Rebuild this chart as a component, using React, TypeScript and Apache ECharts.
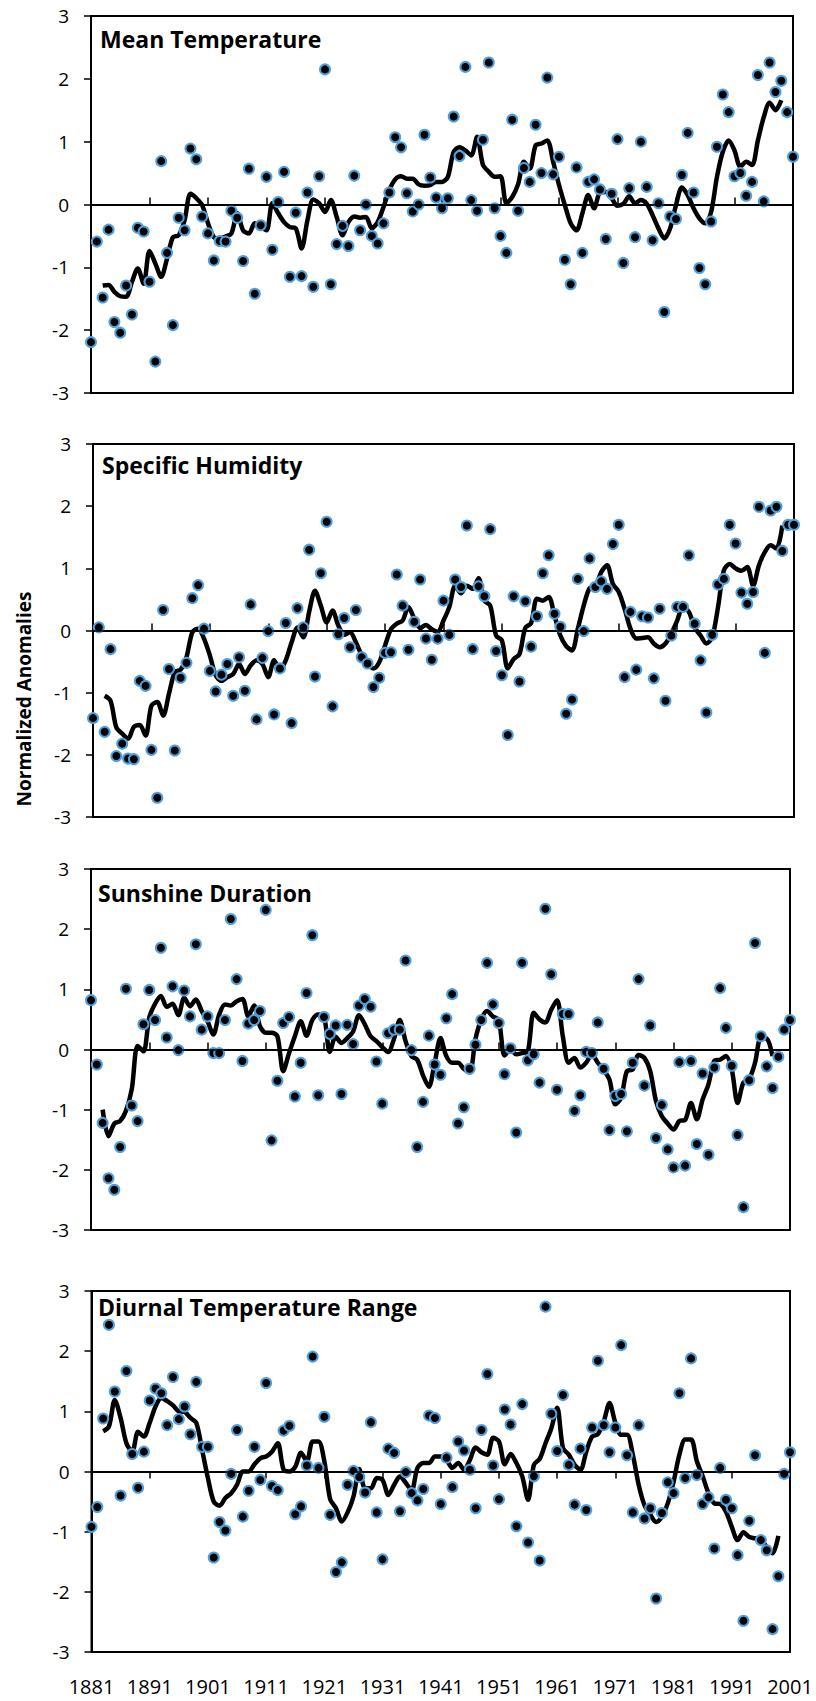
import React, { useEffect, useRef } from "react";
import * as echarts from "echarts";

const FIRST_YEAR = 1881;
const LAST_YEAR = 2001;
const LINE_START = 1883;

const panelTitles = ["Mean Temperature", "Specific Humidity", "Sunshine Duration", "Diurnal Temperature Range"];
const yAxisTitle = "Normalized Anomalies";

// ---- Mean Temperature ----
const meanTempPoints = [
  -2.19, -0.59, -1.48, -0.40, -1.87, -2.04, -1.29, -1.75, -0.37, -0.43,
  -1.23, -2.50, 0.69, -0.77, -1.92, -0.21, -0.41, 0.89, 0.72, -0.19,
  -0.46, -0.89, -0.58, -0.59, -0.10, -0.21, -0.90, 0.57, -1.42, -0.33,
  0.44, -0.72, 0.04, 0.52, -1.15, -0.13, -1.14, 0.19, -1.31, 0.45,
  2.15, -1.27, -0.63, -0.34, -0.66, 0.46, -0.41, 0.00, -0.50, -0.62,
  -0.30, 0.19, 1.07, 0.91, 0.18, -0.11, 0.00, 1.11, 0.43, 0.11,
  -0.06, 0.10, 1.40, 0.77, 2.19, 0.07, -0.10, 1.03, 2.26, -0.06,
  -0.50, -0.77, 1.35, -0.10, 0.58, 0.36, 1.27, 0.50, 2.02, 0.48,
  0.76, -0.88, -1.27, 0.59, -0.77, 0.36, 0.40, 0.24, -0.55, 0.17,
  1.04, -0.93, 0.26, -0.52, 1.00, 0.28, -0.57, 0.02, -1.71, -0.19,
  -0.23, 0.47, 1.14, 0.19, -1.01, -1.27, -0.27, 0.92, 1.75, 1.47,
  0.45, 0.50, 0.14, 0.36, 2.06, 0.05, 2.26, 1.79, 1.97, 1.47,
  0.76,
];
const meanTempSmooth = [
  -1.29, -1.28, -1.39, -1.46, -1.47, -1.23, -1.02, -1.26,
  -0.74, -0.94, -1.15, -0.86, -0.52, -0.49, -0.25, 0.17, 0.10, -0.01,
  -0.30, -0.52, -0.54, -0.51, -0.46, -0.14, -0.41, -0.46, -0.30, -0.36,
  -0.41, 0.02, -0.14, -0.28, -0.36, -0.38, -0.70, -0.25, 0.08, 0.02,
  -0.12, 0.07, -0.20, -0.49, -0.28, -0.19, -0.21, -0.20, -0.38, -0.28,
  -0.04, 0.23, 0.40, 0.45, 0.41, 0.41, 0.32, 0.30, 0.31, 0.36,
  0.36, 0.44, 0.84, 0.91, 0.86, 0.78, 1.08, 0.63, 0.52, 0.44,
  0.45, 0.02, 0.12, 0.32, 0.68, 0.57, 0.94, 0.97, 1.02, 0.68,
  0.31, -0.01, -0.30, -0.41, -0.14, 0.15, -0.06, 0.19, 0.20, 0.10,
  -0.02, 0.01, 0.13, 0.02, 0.07, 0.01, -0.17, -0.38, -0.54, -0.38,
  -0.01, 0.27, 0.15, -0.06, -0.22, -0.30, -0.12, 0.44, 0.84, 1.02,
  0.86, 0.60, 0.68, 0.63, 1.02, 1.39, 1.62, 1.50, 1.66,
];

// ---- Specific Humidity ----
const humidityPoints = [
  -1.41, 0.05, -1.63, -0.30, -2.02, -1.82, -2.06, -2.07, -0.81, -0.89,
  -1.92, -2.69, 0.33, -0.62, -1.93, -0.76, -0.52, 0.52, 0.73, 0.03,
  -0.65, -0.98, -0.71, -0.54, -1.05, -0.43, -0.97, 0.42, -1.43, -0.44,
  -0.01, -1.35, -0.61, 0.12, -1.49, 0.36, 0.05, 1.30, -0.74, 0.92,
  1.75, -1.22, -0.06, 0.20, -0.27, 0.33, -0.43, -0.53, -0.91, -0.76,
  -0.36, -0.35, 0.90, 0.40, -0.31, 0.14, 0.82, -0.13, -0.47, -0.13,
  0.48, -0.07, 0.82, 0.70, 1.69, -0.30, 0.71, 0.55, 1.63, -0.33,
  -0.72, -1.68, 0.55, -0.82, 0.47, -0.26, 0.23, 0.92, 1.21, 0.27,
  0.06, -1.34, -1.11, 0.83, -0.01, 1.16, 0.70, 0.79, 0.67, 1.39,
  1.70, -0.75, 0.30, -0.63, 0.23, 0.21, -0.77, 0.35, -1.13, -0.08,
  0.38, 0.38, 1.21, 0.11, -0.48, -1.32, -0.07, 0.74, 0.83, 1.70,
  1.40, 0.61, 0.43, 0.62, 1.99, -0.36, 1.93, 1.99, 1.28, 1.70,
  1.70,
];
const humiditySmooth = [
  -1.05, -1.13, -1.56, -1.66, -1.74, -1.55, -1.52, -1.69,
  -1.21, -1.15, -1.37, -1.02, -0.67, -0.63, -0.43, -0.03, 0.03, -0.13,
  -0.40, -0.72, -0.81, -0.75, -0.70, -0.54, -0.70, -0.56, -0.48, -0.54,
  -0.75, -0.48, -0.64, -0.48, -0.19, 0.05, -0.11, 0.30, 0.64, 0.40,
  0.13, 0.32, 0.08, -0.07, -0.03, -0.19, -0.40, -0.54, -0.61, -0.51,
  -0.24, 0.02, 0.11, 0.16, 0.38, 0.19, 0.04, 0.09, 0.02, -0.02,
  0.16, 0.38, 0.72, 0.60, 0.72, 0.67, 0.84, 0.48, 0.40, -0.08,
  -0.16, -0.61, -0.46, -0.38, 0.04, 0.12, 0.51, 0.48, 0.54, 0.24,
  -0.08, -0.25, -0.32, 0.03, 0.40, 0.68, 0.71, 0.94, 1.05, 0.75,
  0.62, 0.35, 0.03, -0.13, -0.12, -0.11, -0.21, -0.27, -0.21, -0.05,
  0.16, 0.38, 0.30, 0.05, -0.08, -0.21, -0.11, 0.38, 0.97, 1.07,
  1.00, 0.96, 1.02, 0.72, 1.05, 1.26, 1.37, 1.32, 1.69,
];

// ---- Sunshine Duration ----
const sunshinePoints = [
  0.82, -0.25, -1.22, -2.14, -2.33, -1.62, 1.01, -0.93, -1.19, 0.42,
  0.99, 0.49, 1.69, 0.20, 1.05, -0.01, 0.98, 0.55, 1.75, 0.33,
  0.55, -0.06, -0.06, 0.49, 2.17, 1.17, -0.19, 0.43, 0.49, 0.64,
  2.32, -1.51, -0.52, 0.44, 0.54, -0.78, -0.22, 0.94, 1.90, -0.76,
  0.54, 0.26, 0.40, -0.74, 0.41, 0.09, 0.73, 0.84, 0.71, -0.20,
  -0.90, 0.27, 0.33, 0.33, 1.48, -0.01, -1.62, -0.87, 0.23, -0.25,
  -0.42, 0.52, 0.92, -1.23, -0.96, -0.32, 0.08, 0.49, 1.44, 0.75,
  0.44, -0.41, 0.02, -1.38, 1.44, -0.18, -0.08, -0.55, 2.34, 1.25,
  -0.67, 0.59, 0.59, -1.02, -0.76, -0.04, -0.06, 0.45, -0.32, -1.34,
  -0.77, -0.74, -1.36, -0.22, 1.17, -0.60, 0.40, -1.47, -0.92, -1.66,
  -1.96, -0.21, -1.93, -0.19, -1.57, -0.40, -1.75, -0.30, 1.02, 0.36,
  -0.27, -1.42, -2.62, -0.51, 1.77, 0.22, -0.28, -0.64, -0.12, 0.33,
  0.49,
];
const sunshineSmooth = [
  -1.00, -1.44, -1.23, -1.19, -1.02, -0.66, 0.06, -0.03,
  0.53, 0.76, 0.89, 0.71, 0.76, 0.57, 0.86, 0.72, 0.83, 0.64,
  0.47, 0.25, 0.58, 0.75, 0.73, 0.80, 0.84, 0.55, 0.73, 0.39,
  0.28, 0.28, 0.22, -0.36, -0.06, 0.22, 0.47, 0.23, 0.49, 0.58,
  0.55, -0.04, 0.21, 0.11, 0.19, 0.30, 0.57, 0.42, 0.22, 0.14,
  0.04, -0.04, 0.17, 0.49, 0.14, -0.11, -0.17, -0.43, -0.62, -0.22,
  0.19, -0.11, -0.22, -0.22, -0.32, -0.38, 0.17, 0.50, 0.64, 0.55,
  0.49, -0.10, 0.00, -0.08, -0.06, -0.03, 0.61, 0.50, 0.45, 0.66,
  0.82, 0.22, -0.22, -0.14, -0.30, -0.22, -0.08, -0.22, -0.34, -0.50,
  -0.91, -0.80, -0.36, -0.33, -0.09, -0.14, -0.36, -0.86, -1.11, -1.23,
  -1.33, -1.19, -1.17, -0.89, -1.16, -0.83, -0.58, -0.19, -0.17, -0.11,
  -0.33, -0.89, -0.55, -0.49, -0.22, 0.19, 0.18, -0.11,
];

// ---- Diurnal Temperature Range ----
const dtrPoints = [
  -0.92, -0.59, 0.88, 2.44, 1.33, -0.40, 1.67, 0.29, -0.27, 0.33,
  1.18, 1.38, 1.30, 0.77, 1.57, 0.87, 1.08, 0.62, 1.49, 0.41,
  0.41, -1.43, -0.84, -0.98, -0.04, 0.69, -0.75, -0.32, 0.41, -0.14,
  1.47, -0.24, -0.31, 0.68, 0.76, -0.71, -0.58, 0.10, 1.91, 0.06,
  0.91, -0.72, -1.67, -1.51, -0.22, 0.01, -0.09, -0.35, 0.82, -0.68,
  -1.46, 0.38, 0.31, -0.66, -0.01, -0.36, -0.48, -0.29, 0.93, 0.89,
  -0.54, 0.23, -0.26, 0.50, 0.35, 0.03, -0.61, 0.69, 1.62, 0.10,
  -0.46, 1.03, 0.78, -0.91, 1.12, -1.18, -0.08, -1.48, 2.74, 0.96,
  0.34, 1.27, 0.11, -0.55, 0.38, -0.64, 0.73, 1.84, 0.77, 0.32,
  0.73, 2.10, 0.27, -0.68, 0.77, -0.78, -0.61, -2.11, -0.69, -0.18,
  -0.36, 1.30, -0.11, 1.88, -0.06, -0.54, -0.43, -1.28, 0.06, -0.47,
  -0.61, -1.39, -2.48, -0.82, 0.27, -1.14, -1.31, -2.62, -1.74, -0.04,
  0.32,
];
const dtrSmooth = [
  0.67, 0.75, 1.19, 0.89, 0.47, 0.33, 0.66, 0.58,
  0.81, 1.08, 1.22, 1.17, 1.10, 1.00, 0.99, 0.89, 0.81, 0.36,
  -0.11, -0.50, -0.57, -0.44, -0.36, -0.22, 0.00, 0.00, 0.12, 0.22,
  0.25, 0.33, 0.47, 0.03, 0.00, 0.08, 0.31, 0.17, 0.50, 0.50,
  0.17, -0.46, -0.61, -0.83, -0.68, -0.42, 0.04, -0.28, -0.28, -0.11,
  -0.14, -0.39, -0.22, -0.08, -0.19, -0.31, 0.06, 0.14, 0.14, 0.25,
  0.25, 0.19, 0.06, 0.14, 0.03, 0.19, 0.40, 0.32, 0.28, 0.56,
  0.50, 0.12, 0.29, 0.14, -0.08, -0.47, 0.11, 0.21, 0.47, 0.72,
  1.06, 0.39, 0.28, 0.11, 0.03, 0.33, 0.58, 0.62, 0.83, 1.14,
  0.81, 0.61, 0.61, 0.28, -0.22, -0.56, -0.72, -0.84, -0.75, -0.53,
  -0.17, 0.28, 0.53, 0.53, 0.17, -0.08, -0.36, -0.53, -0.54, -0.67,
  -0.92, -1.14, -1.01, -1.09, -1.11, -1.14, -1.25, -1.36, -1.07,
];

const pointSets = [meanTempPoints, humidityPoints, sunshinePoints, dtrPoints];
const smoothSets = [meanTempSmooth, humiditySmooth, sunshineSmooth, dtrSmooth];

// layout (pixels)
const grids = [
  { left: 91, top: 16, width: 702, height: 377 },
  { left: 93, top: 444, width: 701, height: 373 },
  { left: 91, top: 869, width: 699, height: 361 },
  { left: 91.5, top: 1291, width: 698.5, height: 361 },
];
const titlePos = [
  { x: 100, y: 39 },
  { x: 102, y: 465 },
  { x: 98, y: 893 },
  { x: 98, y: 1306.5 },
];

const FONT = '"Open Sans", "Noto Sans", sans-serif';

export default function App() {
  const ref = useRef<HTMLDivElement>(null);
  useEffect(() => {
    document.body.style.margin = "0";
    if (!ref.current) return;
    const chart = echarts.init(ref.current, null, { renderer: "svg" });
    const pairs = (vals: number[], start: number) => vals.map((v, i) => [start + i, v]);

    const option: any = {
      animation: false,
      backgroundColor: "#fff",
      grid: grids.map((g) => ({ ...g, show: true, borderColor: "#000", borderWidth: 2, backgroundColor: "transparent" })),
      xAxis: grids.map((_, i) => ({
        type: "value",
        gridIndex: i,
        min: FIRST_YEAR,
        max: LAST_YEAR,
        interval: 10,
        axisLine: { show: true, lineStyle: { color: "#000", width: 2 } },
        axisTick: { show: true, inside: i < 3, length: 7, lineStyle: { color: "#000", width: 1.5 } },
        axisLabel: {
          show: i === 3,
          formatter: (v: number) => String(v),
          fontSize: 20,
          color: "#000",
          fontFamily: FONT,
          margin: 24,
        },
        splitLine: { show: false },
      })),
      yAxis: grids.map((_, i) => ({
        type: "value",
        gridIndex: i,
        min: -3,
        max: 3,
        interval: 1,
        axisLine: { show: true, lineStyle: { color: "#000", width: 2 } },
        axisTick: { show: true, inside: false, length: 7, lineStyle: { color: "#000", width: 1.5 } },
        axisLabel: {
          formatter: (v: number) => String(v),
          fontSize: 19,
          color: "#000",
          fontFamily: FONT,
          margin: 22,
        },
        splitLine: { show: false },
      })),
      series: [
        ...smoothSets.map((s, i) => ({
          type: "line",
          xAxisIndex: i,
          yAxisIndex: i,
          data: pairs(s, LINE_START),
          showSymbol: false,
          smooth: 0.3,
          z: 3,
          lineStyle: { color: "#000", width: 4.5 },
          markLine: {
            silent: true,
            symbol: ["none", "none"],
            label: { show: false },
            lineStyle: { color: "#000", width: 1.5, type: "solid" },
            data: [{ yAxis: 0 }],
          },
        })),
        ...pointSets.map((p, i) => ({
          type: "scatter",
          xAxisIndex: i,
          yAxisIndex: i,
          data: pairs(p, FIRST_YEAR),
          symbol: "circle",
          symbolSize: 10,
          z: 4,
          itemStyle: { color: "#000", borderColor: "#4f9fdc", borderWidth: 2, opacity: 1 },
        })),
      ],
      graphic: [
        ...panelTitles.map((t, i) => ({
          type: "text",
          x: titlePos[i].x,
          y: titlePos[i].y,
          z: 10,
          style: {
            text: t,
            fontSize: 23,
            fontWeight: "bold",
            fontFamily: FONT,
            fill: "#000",
            align: "left",
            verticalAlign: "middle",
          },
        })),
        {
          type: "text",
          x: 24,
          y: 699,
          rotation: Math.PI / 2,
          z: 10,
          style: {
            text: yAxisTitle,
            fontSize: 19,
            fontWeight: "bold",
            fontFamily: FONT,
            fill: "#000",
            align: "center",
            verticalAlign: "middle",
          },
        },
      ],
    };
    chart.setOption(option);
    return () => chart.dispose();
  }, []);
  return <div ref={ref} style={{ width: 816, height: 1701 }} />;
}
